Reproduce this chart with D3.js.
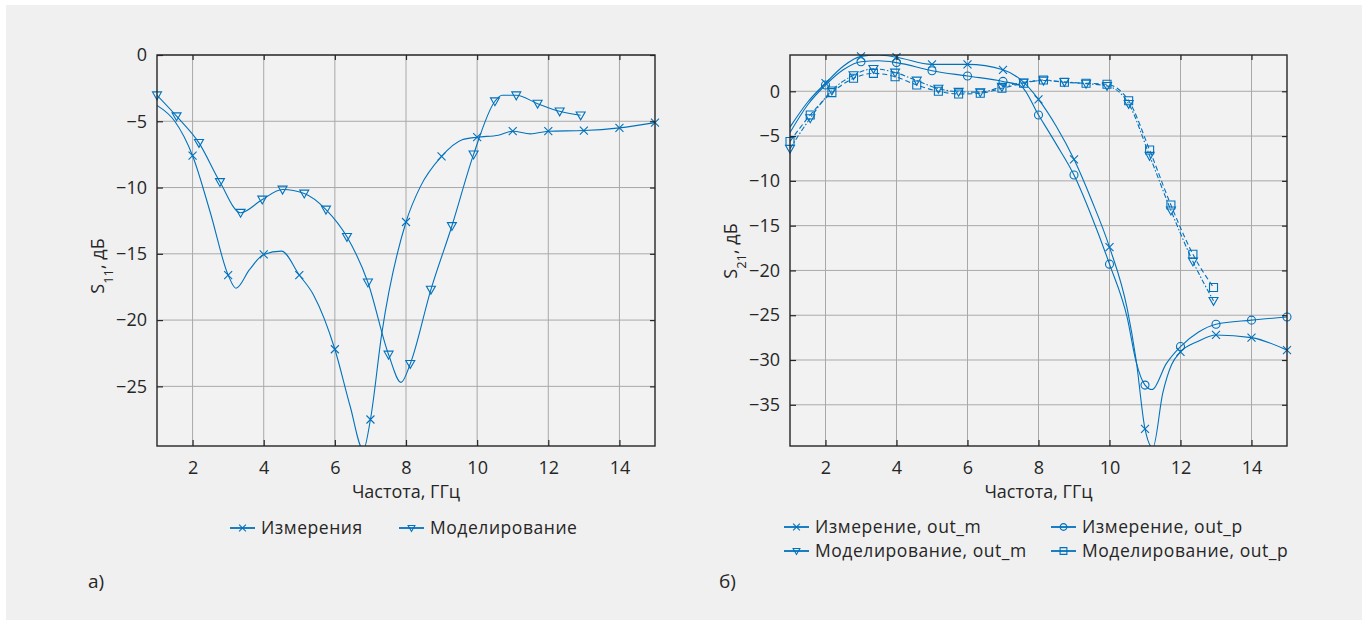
<!DOCTYPE html>
<html>
<head>
<meta charset="utf-8">
<script src="https://cdn.jsdelivr.net/npm/d3@7"></script>
<style>
body { margin: 0; background: #ffffff; }
text { font-family: "Open Sans", "Noto Sans", sans-serif; fill: #262626; }
</style>
</head>
<body>
<svg class="chart"></svg>
<script>
// ---- data ----
var xTicks = [2, 4, 6, 8, 10, 12, 14];
var s11Ticks = [0, -5, -10, -15, -20, -25];
var s21Ticks = [0, -5, -10, -15, -20, -25, -30, -35];

// panel a) S11
var s11MeasF  = [1.0, 1.5, 2.0, 2.5, 3.0, 3.22, 3.6, 4.0, 4.5, 5.0, 5.4, 6.0, 6.43, 6.8, 7.0, 7.32, 8.0, 8.4, 9.0, 9.58, 10.0, 10.6, 11.0, 11.5, 12.0, 13.0, 14.0, 15.0];
var s11MeasDb = [-3.8, -5.0, -7.6, -11.9, -16.6, -17.6, -16.2, -15.05, -14.8, -16.6, -18.1, -22.2, -26.5, -29.8, -27.5, -21.0, -12.6, -9.95, -7.65, -6.4, -6.2, -6.05, -5.75, -5.95, -5.75, -5.7, -5.5, -5.1];
var s11MeasMarks = [2, 3, 4, 5, 6, 7, 8, 9, 10, 11, 12, 13, 14, 15];

var s11SimF  = [1.0, 1.55, 2.18, 2.77, 3.35, 3.96, 4.53, 5.14, 5.75, 6.34, 6.93, 7.51, 7.86, 8.12, 8.7, 9.29, 9.9, 10.5, 10.7, 11.1, 11.7, 12.32, 12.91];
var s11SimDb = [-3.04, -4.62, -6.63, -9.58, -11.9, -10.9, -10.15, -10.45, -11.66, -13.72, -17.16, -22.6, -24.7, -23.3, -17.7, -12.9, -7.5, -3.49, -3.04, -3.04, -3.67, -4.25, -4.55];
var s11SimMarks = [1.0, 1.55, 2.18, 2.77, 3.35, 3.96, 4.53, 5.14, 5.75, 6.34, 6.93, 7.51, 8.12, 8.7, 9.29, 9.9, 10.5, 11.1, 11.7, 12.32, 12.91];

// panel б) S21
var s21MeasMF  = [1.0, 1.5, 2.0, 2.5, 3.0, 3.5, 4.0, 5.0, 6.0, 7.0, 7.5, 8.0, 8.5, 9.0, 9.5, 10.0, 10.5, 10.75, 11.0, 11.22, 11.5, 11.75, 12.0, 12.5, 13.0, 14.0, 15.0];
var s21MeasMDb = [-4.0, -1.2, 0.9, 2.8, 3.9, 4.05, 3.8, 3.0, 3.0, 2.4, 1.3, -0.9, -3.9, -7.6, -12.2, -17.4, -24.3, -30.0, -37.7, -39.8, -33.7, -30.5, -29.1, -27.9, -27.2, -27.5, -28.9];
var s21MeasPF  = [1.0, 1.5, 2.0, 2.5, 3.0, 3.5, 4.0, 5.0, 6.0, 7.0, 7.5, 8.0, 8.5, 9.0, 9.5, 10.0, 10.5, 10.75, 11.0, 11.2, 11.6, 12.0, 12.5, 13.0, 14.0, 15.0];
var s21MeasPDb = [-4.6, -1.5, 0.7, 2.4, 3.3, 3.4, 3.2, 2.3, 1.7, 1.1, 0.6, -2.65, -5.9, -9.35, -14.0, -19.3, -25.3, -30.2, -32.8, -33.3, -30.4, -28.5, -26.9, -26.0, -25.55, -25.2];
var s21MeasMarks = [2, 3, 4, 5, 6, 7, 8, 9, 10, 11, 12, 13, 14, 15];

var s21SimF   = [1.0, 1.57, 2.18, 2.79, 3.35, 3.96, 4.57, 5.18, 5.75, 6.36, 6.97, 7.58, 8.14, 8.73, 9.34, 9.93, 10.54, 11.13, 11.73, 12.35, 12.93];
var s21SimMDb = [-6.4, -3.0, 0.1, 1.8, 2.5, 2.1, 1.2, 0.3, -0.05, -0.1, 0.5, 1.0, 1.2, 1.05, 0.85, 0.6, -1.4, -7.2, -13.3, -19.0, -23.4];
var s21SimPDb = [-5.6, -2.65, -0.15, 1.45, 2.0, 1.63, 0.7, 0.0, -0.3, -0.22, 0.33, 0.9, 1.26, 1.0, 0.9, 0.78, -1.05, -6.56, -12.7, -18.2, -21.9];

// ---- layout ----
var width = 1368,
    height = 625;
var plotTop = 55,
    plotBottom = 446;
var blue = "#0072bd";
var dark = "#262626";

var chart = d3.select(".chart")
    .attr("width", width)
    .attr("height", height);

chart.append("rect") //page background
    .attr("x", 6).attr("y", 5)
    .attr("width", width - 12).attr("height", height - 10)
    .attr("fill", "#f0f0f0");

function zip(f, db) {
  return f.map(function(v, i) { return { f: v, db: db[i] }; });
}

function markerPath(type, s) {
  if (type == "x") return "M" + (-s) + "," + (-s) + "L" + s + "," + s + "M" + (-s) + "," + s + "L" + s + "," + (-s);
  if (type == "tri") return "M" + (-s) + "," + (-s * 0.75) + "L" + s + "," + (-s * 0.75) + "L0," + s + "Z";
  if (type == "sq") return "M" + (-s) + "," + (-s) + "H" + s + "V" + s + "H" + (-s) + "Z";
  return "M" + s + ",0A" + s + "," + s + " 0 1,1 " + (-s) + ",0A" + s + "," + s + " 0 1,1 " + s + ",0"; //circle
}

function drawPanel(cfg) {
  var x = d3.scaleLinear().domain([1, 15]).range([cfg.left, cfg.right]);
  var y = d3.scaleLinear().domain(cfg.yDomain).range([plotBottom, plotTop]);
  var g = chart.append("g");

  g.append("rect") //plot area
    .attr("x", cfg.left).attr("y", plotTop)
    .attr("width", cfg.right - cfg.left).attr("height", plotBottom - plotTop)
    .attr("fill", "#f2f2f2");

  g.selectAll(".vgrid").data(xTicks).enter().append("line") //vertical grid
    .attr("x1", function(d) { return x(d); }).attr("x2", function(d) { return x(d); })
    .attr("y1", plotTop).attr("y2", plotBottom)
    .attr("stroke", "#a9a9a9").attr("stroke-width", 1);

  g.selectAll(".hgrid").data(cfg.yTicks).enter().append("line") //horizontal grid
    .attr("x1", cfg.left).attr("x2", cfg.right)
    .attr("y1", function(d) { return y(d); }).attr("y2", function(d) { return y(d); })
    .attr("stroke", "#a9a9a9").attr("stroke-width", 1);

  var clipId = "clip" + cfg.name;
  g.append("clipPath").attr("id", clipId).append("rect")
    .attr("x", cfg.left).attr("y", plotTop)
    .attr("width", cfg.right - cfg.left).attr("height", plotBottom - plotTop);

  var line = d3.line()
    .x(function(d) { return x(d.f); })
    .y(function(d) { return y(d.db); })
    .curve(d3.curveMonotoneX);

  cfg.series.forEach(function(s) {
    var pts = zip(s.f, s.db);
    g.append("path")
      .attr("clip-path", "url(#" + clipId + ")")
      .attr("d", line(pts))
      .attr("fill", "none")
      .attr("stroke", blue)
      .attr("stroke-width", 1.1)
      .attr("stroke-dasharray", s.dash || null);
    g.selectAll(null)
      .data(pts.filter(function(d) { return s.marks.indexOf(d.f) >= 0; }))
      .enter().append("path")
      .attr("transform", function(d) { return "translate(" + x(d.f) + "," + y(d.db) + ")"; })
      .attr("d", markerPath(s.marker, s.marker == "tri" ? 4.5 : 4))
      .attr("fill", "none")
      .attr("stroke", blue)
      .attr("stroke-width", 1.1);
  });

  var xAxis = g.append("g") //x-axis
    .attr("transform", "translate(0," + plotBottom + ")")
    .call(d3.axisBottom(x).tickValues(xTicks).tickSizeInner(-6).tickSizeOuter(0).tickPadding(15));
  var xTop = g.append("g")
    .attr("transform", "translate(0," + plotTop + ")")
    .call(d3.axisTop(x).tickValues(xTicks).tickSizeInner(-5).tickSizeOuter(0).tickFormat(""));
  var yAxis = g.append("g") //y-axis
    .attr("transform", "translate(" + cfg.left + ",0)")
    .call(d3.axisLeft(y).tickValues(cfg.yTicks).tickSizeInner(-6).tickSizeOuter(0).tickPadding(10));
  var yRight = g.append("g")
    .attr("transform", "translate(" + cfg.right + ",0)")
    .call(d3.axisRight(y).tickValues(cfg.yTicks).tickSizeInner(-5).tickSizeOuter(0).tickFormat(""));

  [xAxis, xTop, yAxis, yRight].forEach(function(a) {
    a.select(".domain").remove();
    a.selectAll("line").attr("stroke", dark).attr("stroke-width", 1.2);
    a.selectAll("text").attr("fill", dark).style("font-size", "18px").style("font-family", null);
  });

  g.append("rect") //box
    .attr("x", cfg.left).attr("y", plotTop)
    .attr("width", cfg.right - cfg.left).attr("height", plotBottom - plotTop)
    .attr("fill", "none").attr("stroke", dark).attr("stroke-width", 1.4);

  g.append("text") //x label
    .attr("x", (cfg.left + cfg.right) / 2)
    .attr("y", 498)
    .attr("text-anchor", "middle")
    .style("font-size", "18px")
    .text("Частота, ГГц");

  var yl = g.append("text") //y label
    .attr("transform", "translate(" + (cfg.left - 59) + "," + cfg.yLabelY + ") rotate(-90)")
    .attr("text-anchor", "middle")
    .attr("dy", "0.35em")
    .style("font-size", "18px");
  yl.append("tspan").text("S");
  yl.append("tspan").attr("baseline-shift", "sub").style("font-size", "13px").text(cfg.sub);
  yl.append("tspan").text(", дБ");

  // legend
  cfg.legend.forEach(function(it) {
    g.append("line")
      .attr("x1", it.x).attr("x2", it.x + 25)
      .attr("y1", it.y).attr("y2", it.y)
      .attr("stroke", blue).attr("stroke-width", 1.8);
    g.append("path")
      .attr("transform", "translate(" + (it.x + 12.5) + "," + it.y + ")")
      .attr("d", markerPath(it.marker, 3.4))
      .attr("fill", "none").attr("stroke", blue).attr("stroke-width", 1.1);
    g.append("text")
      .attr("x", it.x + 31).attr("y", it.y)
      .attr("dy", "0.35em")
      .style("font-size", "17.5px")
      .style("letter-spacing", "0.55px")
      .text(it.label);
  });

  g.append("text") //panel letter
    .attr("x", cfg.letterX).attr("y", 581)
    .attr("dy", "0.35em")
    .style("font-size", "19px")
    .text(cfg.letter);
}

drawPanel({
  name: "a", left: 157, right: 655, yDomain: [-29.5, 0], yTicks: s11Ticks, sub: "11", yLabelY: 266,
  series: [
    { f: s11MeasF, db: s11MeasDb, marks: s11MeasMarks, marker: "x" },
    { f: s11SimF, db: s11SimDb, marks: s11SimMarks, marker: "tri" }
  ],
  legend: [
    { x: 230, y: 528, marker: "x", label: "Измерения" },
    { x: 399, y: 528, marker: "tri", label: "Моделирование" }
  ],
  letter: "а)", letterX: 88
});

drawPanel({
  name: "b", left: 790, right: 1287, yDomain: [-39.6, 4.05], yTicks: s21Ticks, sub: "21", yLabelY: 251,
  series: [
    { f: s21MeasMF, db: s21MeasMDb, marks: s21MeasMarks, marker: "x" },
    { f: s21MeasPF, db: s21MeasPDb, marks: s21MeasMarks, marker: "o" },
    { f: s21SimF, db: s21SimMDb, marks: s21SimF, marker: "tri", dash: "5,2,1.5,2" },
    { f: s21SimF, db: s21SimPDb, marks: s21SimF, marker: "sq", dash: "5,3" }
  ],
  legend: [
    { x: 784, y: 527, marker: "x", label: "Измерение, out_m" },
    { x: 1051, y: 527, marker: "o", label: "Измерение, out_p" },
    { x: 784, y: 551, marker: "tri", label: "Моделирование, out_m" },
    { x: 1051, y: 551, marker: "sq", label: "Моделирование, out_p" }
  ],
  letter: "б)", letterX: 719
});
</script>
</body>
</html>
